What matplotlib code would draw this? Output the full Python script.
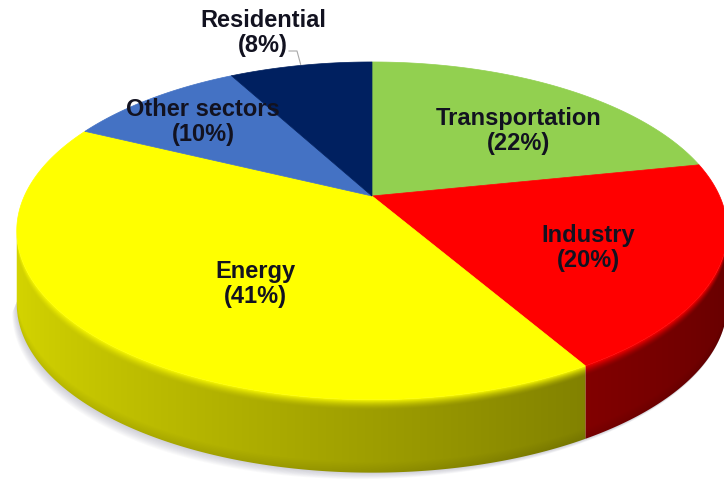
#!/usr/bin/env python3
# -*- coding: utf-8 -*-
"""
3D pie chart: emission share by sector
"""

import numpy as np
import matplotlib
matplotlib.use('Agg')
import matplotlib.pyplot as plt
from matplotlib.patches import Polygon

# Sector shares (%), clockwise from 12 o'clock
SECTORS = ['Transportation', 'Industry', 'Energy', 'Other sectors', 'Residential']
SHARES = [22, 20, 41, 10, 8]

SLICE_COLORS = ['#92d050', '#ff0000', '#ffff00', '#4472c4', '#002060']
TEXT_COLOR = '#121220'

# Label anchor (pixels) for each sector
LABEL_POS = {
    'Transportation': (519, 131),
    'Industry': (588, 248),
    'Energy': (255, 284),
    'Other sectors': (203, 122),
    'Residential': (263, 33),
}

# Camera / disk geometry (pixel space)
W, H = 724, 481
CX, CY = 372, 197
ELEV = np.radians(30)
DIST = 4.2
KX, KY = 1460, 1358
WALL = 73          # wall height in pixels


def project(t):
    """Perspective projection of a point on the top rim at angle t"""
    c, s = np.cos(ELEV), np.sin(ELEV)
    X, Y = np.cos(t), np.sin(t)
    depth = DIST + Y * c
    x = CX + KX * X / depth
    y = CY - KY * Y * s / depth
    return x, y


def slice_angles(shares):
    total = float(sum(shares))
    cum = np.concatenate([[0], np.cumsum(shares)])
    # clockwise from 90 deg
    starts = 90 - 360 * cum[:-1] / total
    ends = 90 - 360 * cum[1:] / total
    return starts, ends


def front_arc():
    """Angles of the lower rim between its left and right extremes"""
    ts = np.linspace(-np.pi, 0, 2000)
    xs, _ = project(ts)
    i0, i1 = np.argmin(xs), np.argmax(xs)
    return ts[i0], ts[i1]


def wall_image(base, t_left, t_right):
    """RGB image of the rim wall: darker to the right, bevel on the top edge"""
    ts = np.linspace(t_left, t_right, 2000)
    xs, ys = project(ts)
    px = np.arange(W) + 0.5
    py = np.arange(H) + 0.5
    tcol = np.interp(px, xs, ts)
    ytop = np.interp(px, xs, ys)
    u = (py[:, None] - ytop[None, :]) / WALL
    u = np.clip(u, 0, 1)
    b = 0.62 - 0.22 * np.cos(tcol)[None, :]
    bev = np.clip(1 - u / 0.14, 0, 1) ** 1.6
    f = b + (0.97 - b) * bev
    f = f * (1 - 0.10 * np.clip((u - 0.85) / 0.15, 0, 1))
    img = np.clip(np.array(base)[None, None, :] * f[:, :, None], 0, 1)
    return img


def draw_shadow(ax, t_left, t_right):
    # soft haze under the front edge, strongest at the lower left
    ts = np.linspace(t_left, t_right, 300)
    xs, ys = project(ts)
    ys = ys + WALL
    fade = np.clip(1.2 - (xs - xs.min()) / (xs.max() - xs.min()), 0.3, 1)
    for k in range(10):
        off = 1.0 + 0.9 * k
        xo = xs - 0.5 * off * fade
        yo = ys + off * fade
        pts = np.column_stack([np.r_[xs, xo[::-1]], np.r_[ys - 2, yo[::-1]]])
        ax.add_patch(Polygon(pts, closed=True, facecolor='#8c8ca0',
                             edgecolor='none', alpha=0.045, zorder=1))


def draw_walls(ax, starts, ends, t_left, t_right):
    for st, en, col in zip(starts, ends, SLICE_COLORS):
        base = matplotlib.colors.to_rgb(col)
        lo, hi = np.radians(en), np.radians(st)
        for shift in (-2 * np.pi, 0, 2 * np.pi):
            a, b = max(lo + shift, t_left), min(hi + shift, t_right)
            if b <= a:
                continue
            ts = np.linspace(a, b, 300)
            xs, ys = project(ts)
            pts = np.column_stack([np.r_[xs, xs[::-1]],
                                   np.r_[ys, ys[::-1] + WALL]])
            clip = Polygon(pts, closed=True, facecolor='none',
                           edgecolor='none', transform=ax.transData)
            ax.add_patch(clip)
            im = ax.imshow(wall_image(base, t_left, t_right),
                           extent=(0, W, H, 0), interpolation='bilinear',
                           zorder=2)
            im.set_clip_path(clip)


def draw_top(ax, starts, ends):
    for st, en, col in zip(starts, ends, SLICE_COLORS):
        ts = np.radians(np.linspace(st, en, 300))
        xs, ys = project(ts)
        pts = np.column_stack([np.r_[CX, xs], np.r_[CY, ys]])
        ax.add_patch(Polygon(pts, closed=True, facecolor=col,
                             edgecolor=col, linewidth=0.5, zorder=3))


def draw_labels(ax, starts, ends):
    font = dict(family=['Liberation Sans', 'DejaVu Sans'], fontweight='bold',
                fontsize=17, color=TEXT_COLOR, ha='center', va='center',
                linespacing=1.1, zorder=5)
    for name, share in zip(SECTORS, SHARES):
        x, y = LABEL_POS[name]
        ax.text(x, y, f'{name}\n({share}%)', **font)
    # leader line for the small slice at the top
    i = SECTORS.index('Residential')
    mid = np.radians(0.5 * (starts[i] + ends[i]))
    rx, ry = project(mid)
    lx, ly = LABEL_POS['Residential']
    ax.plot([lx + 26, lx + 34, rx], [ly + 19, ly + 19, ry - 1],
            color='#a8a8a8', linewidth=0.8, zorder=4)


def main():
    fig = plt.figure(figsize=(W / 100, H / 100), dpi=100)
    ax = fig.add_axes([0, 0, 1, 1])

    starts, ends = slice_angles(SHARES)
    t_left, t_right = front_arc()
    draw_shadow(ax, t_left, t_right)
    draw_walls(ax, starts, ends, t_left, t_right)
    draw_top(ax, starts, ends)
    draw_labels(ax, starts, ends)

    ax.set_xlim(0, W)
    ax.set_ylim(H, 0)
    ax.set_aspect('auto')
    ax.axis('off')
    fig.savefig('out.png', dpi=100, facecolor='white')


if __name__ == "__main__":
    main()
